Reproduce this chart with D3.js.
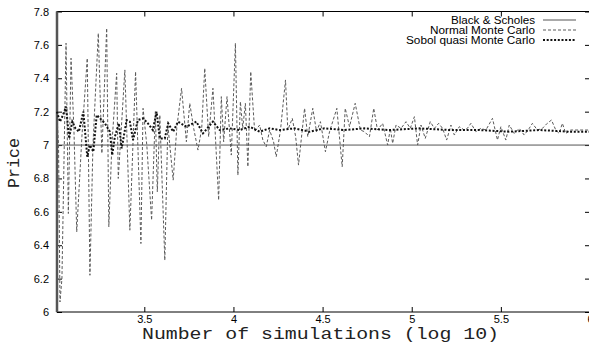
<!DOCTYPE html>
<html>
<head>
<meta charset="utf-8">
<script src="https://cdn.jsdelivr.net/npm/d3@7"></script>
<style>
  body { margin: 0; background: #fff; }
  svg { display: block; }
</style>
</head>
<body>
<div id="chart"></div>
<script>
// log10(number of simulations) -> price
const normalX = [3.010, 3.019, 3.027, 3.038, 3.061, 3.074, 3.089, 3.105, 3.121, 3.150, 3.180, 3.195, 3.212, 3.242, 3.262,
  3.289, 3.301, 3.318, 3.345, 3.354, 3.391, 3.419, 3.451, 3.481, 3.493, 3.514, 3.541, 3.562, 3.573, 3.587,
  3.615, 3.632, 3.662, 3.682, 3.709, 3.736, 3.755, 3.777, 3.801, 3.822, 3.839, 3.861, 3.885, 3.917, 3.932,
  3.945, 3.964, 3.988, 4.011, 4.025, 4.039, 4.052, 4.067, 4.081, 4.097, 4.119, 4.147, 4.165, 4.184, 4.203,
  4.225, 4.240, 4.264, 4.292, 4.305, 4.330, 4.349, 4.365, 4.399, 4.417, 4.445, 4.466, 4.488, 4.516, 4.539,
  4.580, 4.610, 4.627, 4.651, 4.683, 4.712, 4.735, 4.763, 4.787, 4.808, 4.837, 4.865, 4.880, 4.893, 4.912,
  4.940, 4.968, 4.992, 5.015, 5.033, 5.052, 5.076, 5.104, 5.127, 5.151, 5.173, 5.196, 5.220, 5.239, 5.267,
  5.295, 5.312, 5.332, 5.360, 5.388, 5.416, 5.453, 5.481, 5.500, 5.528, 5.547, 5.575, 5.603, 5.631, 5.659,
  5.677, 5.705, 5.733, 5.760, 5.784, 5.808, 5.827, 5.845, 5.864, 5.892, 5.927, 5.955, 6.000];
const normalMC = [7.18, 7.00, 6.06, 6.20, 7.61, 6.59, 7.52, 7.10, 6.48, 7.05, 7.52, 6.22, 7.00, 7.67, 6.95,
  7.70, 6.51, 7.00, 7.43, 6.80, 7.45, 6.49, 7.44, 6.41, 7.22, 7.00, 6.55, 7.20, 6.72, 7.18,
  6.31, 7.12, 6.79, 7.10, 7.34, 7.02, 7.25, 7.10, 6.97, 7.10, 7.46, 7.05, 7.34, 6.67, 7.29,
  7.02, 7.29, 6.94, 7.61, 6.82, 7.26, 7.10, 7.25, 6.87, 7.44, 7.08, 7.12, 7.03, 6.99, 7.09,
  7.02, 6.93, 7.09, 7.39, 7.09, 7.16, 7.05, 6.88, 7.22, 7.05, 7.22, 7.08, 7.14, 6.96, 7.08,
  7.22, 6.87, 7.22, 7.11, 7.25, 7.09, 7.08, 7.05, 7.22, 7.09, 7.13, 7.00, 7.10, 7.01, 7.12,
  7.10, 7.14, 7.10, 7.17, 7.00, 7.12, 7.04, 7.14, 7.10, 7.13, 7.10, 7.03, 7.12, 7.06, 7.11,
  7.09, 7.10, 7.13, 7.08, 7.10, 7.09, 7.16, 7.03, 7.11, 7.03, 7.12, 7.07, 7.10, 7.06, 7.10,
  7.13, 7.09, 7.10, 7.13, 7.15, 7.09, 7.07, 7.13, 7.07, 7.09, 7.09, 7.09, 7.09];

const sobolX = [3.010, 3.027, 3.044, 3.061, 3.078, 3.096, 3.114, 3.133, 3.158, 3.180, 3.195, 3.214, 3.233, 3.261, 3.279,
  3.307, 3.320, 3.335, 3.357, 3.373, 3.401, 3.419, 3.437, 3.464, 3.493, 3.520, 3.548, 3.569, 3.587, 3.615,
  3.634, 3.662, 3.689, 3.736, 3.792, 3.829, 3.885, 3.923, 3.979, 4.035, 4.091, 4.147, 4.203, 4.259, 4.343,
  4.427, 4.511, 4.623, 4.735, 4.875, 5.043, 5.211, 5.379, 5.547, 5.716, 5.884, 6.000];
const sobolQMC = [7.20, 7.14, 7.18, 7.23, 7.04, 7.14, 7.10, 7.08, 7.20, 6.93, 7.00, 6.96, 7.18, 7.15, 7.13,
  7.08, 6.94, 7.05, 7.13, 6.98, 7.15, 7.14, 7.03, 7.15, 7.16, 7.13, 7.09, 7.20, 7.04, 7.04,
  7.13, 7.08, 7.14, 7.11, 7.14, 7.07, 7.14, 7.09, 7.10, 7.09, 7.11, 7.08, 7.10, 7.09, 7.10,
  7.08, 7.10, 7.09, 7.10, 7.09, 7.10, 7.09, 7.09, 7.08, 7.09, 7.08, 7.08];

const blackScholes = 7.0;

const xTicks = [3.5, 4, 4.5, 5, 5.5, 6];
const xTickLabels = ['3.5', '4', '4.5', '5', '5.5', '6'];
const yTicks = [6, 6.2, 6.4, 6.6, 6.8, 7, 7.2, 7.4, 7.6, 7.8];
const yTickLabels = ['6', '6.2', '6.4', '6.6', '6.8', '7', '7.2', '7.4', '7.6', '7.8'];
const legendLabels = ['Black & Scholes', 'Normal Monte Carlo', 'Sobol quasi Monte Carlo'];

const W = 589, H = 343;
const margin = {top: 11.5, right: -1, bottom: 31, left: 57};
const width = W - margin.left - margin.right,
  height = H - margin.top - margin.bottom;

const svg = d3.select('#chart').append('svg')
  .attr('width', W)
  .attr('height', H);

const g = svg.append('g')
  .attr('transform', 'translate(' + margin.left + ',' + margin.top + ')');

const x = d3.scaleLinear().domain([3.0103, 6]).range([0, width]);
const y = d3.scaleLinear().domain([6, 7.8]).range([height, 0]);

const tickFont = '"Liberation Sans", Arial, sans-serif';

// axes with inward ticks
g.append('g')
  .attr('transform', 'translate(0,' + height + ')')
  .call(d3.axisBottom(x).tickValues(xTicks).tickFormat((d, i) => xTickLabels[i])
    .tickSizeInner(-5).tickSizeOuter(0).tickPadding(3.5));
g.append('g')
  .call(d3.axisTop(x).tickValues(xTicks).tickFormat('').tickSizeInner(-5).tickSizeOuter(0));
g.append('g')
  .call(d3.axisLeft(y).tickValues(yTicks).tickFormat((d, i) => yTickLabels[i])
    .tickSizeInner(-5).tickSizeOuter(0).tickPadding(8));
g.append('g')
  .attr('transform', 'translate(' + width + ',0)')
  .call(d3.axisRight(y).tickValues(yTicks).tickFormat('').tickSizeInner(-5).tickSizeOuter(0));

g.selectAll('.domain').remove();
g.selectAll('.tick line').attr('stroke', '#000');
g.selectAll('.tick text')
  .style('font-family', tickFont)
  .style('font-size', '11px')
  .attr('fill', '#000');

// frame
g.append('rect')
  .attr('x', 0).attr('y', 0)
  .attr('width', width).attr('height', height)
  .attr('fill', 'none')
  .attr('stroke', '#000')
  .attr('stroke-width', 1);
g.append('line')
  .attr('x1', 0).attr('x2', 0)
  .attr('y1', 0).attr('y2', height)
  .attr('stroke', '#555')
  .attr('stroke-width', 2.5);

const line = d3.line()
  .x(d => x(d[0]))
  .y(d => y(d[1]));

// Black & Scholes
g.append('line')
  .attr('x1', x(3.0103)).attr('x2', x(6))
  .attr('y1', y(blackScholes)).attr('y2', y(blackScholes))
  .attr('stroke', '#555')
  .attr('stroke-width', 1);

// Normal Monte Carlo
g.append('path')
  .datum(normalX.map((v, i) => [v, normalMC[i]]))
  .attr('d', line)
  .attr('fill', 'none')
  .attr('stroke', '#5a5a5a')
  .attr('stroke-width', 1)
  .attr('stroke-dasharray', '3,2');

// Sobol quasi Monte Carlo
g.append('path')
  .datum(sobolX.map((v, i) => [v, sobolQMC[i]]))
  .attr('d', line)
  .attr('fill', 'none')
  .attr('stroke', '#111')
  .attr('stroke-width', 2)
  .attr('stroke-dasharray', '2,1.7');

// legend
const legendStyles = [
  {stroke: '#555', width: 1, dash: null, len: 84},
  {stroke: '#5a5a5a', width: 1, dash: '3,2', len: 105},
  {stroke: '#111', width: 2, dash: '2,1.7', len: 129}
];
legendLabels.forEach((label, i) => {
  const ly = 20 + i * 10;
  svg.append('text')
    .attr('x', 535)
    .attr('y', ly)
    .attr('dy', '.35em')
    .attr('text-anchor', 'end')
    .style('font-family', tickFont)
    .style('font-size', '10px')
    .attr('textLength', legendStyles[i].len)
    .attr('lengthAdjust', 'spacingAndGlyphs')
    .text(label);
  svg.append('line')
    .attr('x1', 543).attr('x2', 576)
    .attr('y1', ly).attr('y2', ly)
    .attr('stroke', legendStyles[i].stroke)
    .attr('stroke-width', legendStyles[i].width)
    .attr('stroke-dasharray', legendStyles[i].dash);
});

// axis titles
const monoFont = '"Liberation Mono", "Courier New", monospace';
svg.append('text')
  .attr('x', 320.5)
  .attr('y', 339)
  .attr('text-anchor', 'middle')
  .style('font-family', monoFont)
  .style('font-size', '16.5px')
  .attr('fill', '#222')
  .attr('textLength', 357)
  .attr('lengthAdjust', 'spacingAndGlyphs')
  .text('Number of simulations (log 10)');

svg.append('text')
  .attr('transform', 'translate(19,163) rotate(-90)')
  .attr('text-anchor', 'middle')
  .style('font-family', monoFont)
  .style('font-size', '17px')
  .attr('fill', '#222')
  .attr('textLength', 50)
  .attr('lengthAdjust', 'spacingAndGlyphs')
  .text('Price');
</script>
</body>
</html>
